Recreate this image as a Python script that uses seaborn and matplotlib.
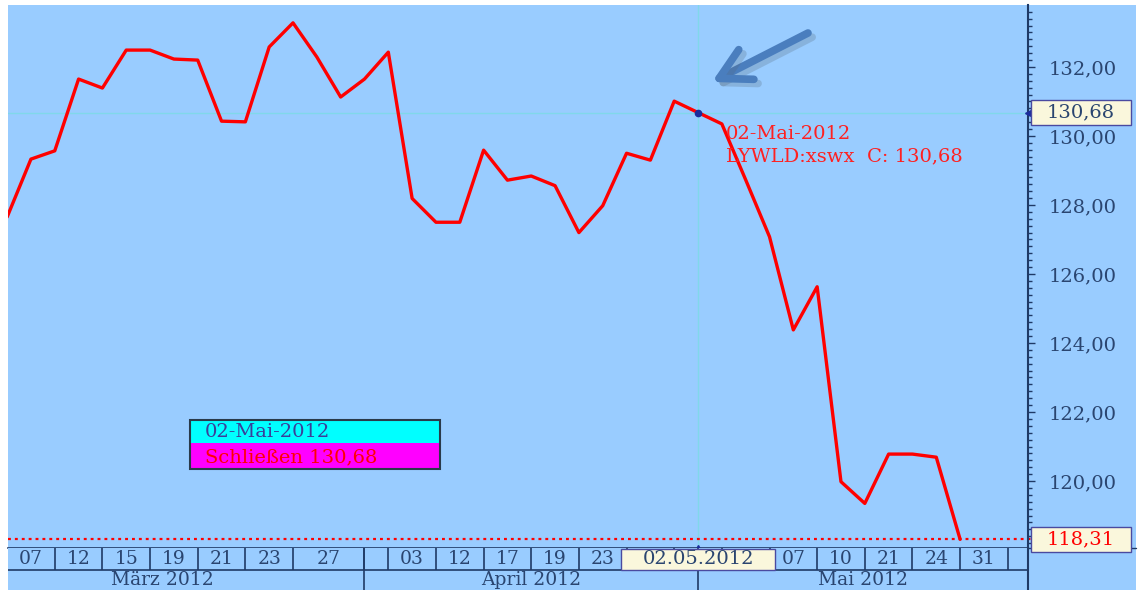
import numpy as np
import pandas as pd
import matplotlib
matplotlib.use("Agg")
import matplotlib.pyplot as plt
import seaborn as sns
from matplotlib.ticker import MultipleLocator, FuncFormatter
from matplotlib.patches import Rectangle
from matplotlib.lines import Line2D
import matplotlib.patheffects as pe

# ---------------- data ----------------
close = [127.65, 129.33, 129.57, 131.65, 131.39, 132.49, 132.49, 132.23, 132.20, 130.43,
         130.41, 132.58, 133.28, 132.29, 131.13, 131.65, 132.43, 128.19, 127.50, 127.50,
         129.59, 128.72, 128.84, 128.56, 127.20, 127.98, 129.50, 129.30, 131.01, 130.68,
         130.35, 128.73, 127.08, 124.38, 125.63, 119.98, 119.35, 120.78, 120.78, 120.69,
         118.31]
day_bounds = [0, 2, 4, 6, 8, 10, 12, 15, 16, 18, 20, 22, 24, 26, 28, 30, 32, 34, 36, 38, 40, 42]
day_labels = ["07", "12", "15", "19", "21", "23", "27", "", "03", "12", "17", "19", "23",
              "", "", "", "07", "10", "21", "24", "31"]
month_names = ["März 2012", "April 2012", "Mai 2012"]
month_start = [-2, 15, 29]
sel_idx = 29
sel_date_short = "02.05.2012"
sel_date_long = "02-Mai-2012"
symbol = "LYWLD:xswx"
close_label = "Schließen"

df = pd.DataFrame({"idx": np.arange(len(close)), "close": close})

def fmt(v):
    return f"{v:.2f}".replace(".", ",")

# ---------------- style ----------------
sns.set_style("white")
plt.rcParams["font.family"] = ["DejaVu Serif"]

W, H = 1139, 590
BG = "#99CCFF"
NAVY = "#1F3A66"
TXT = "#2A4570"
CREAM = "#FAF7DC"

fig = plt.figure(figsize=(W / 100, H / 100), dpi=100, facecolor="white")

def fx(x):
    return x / W

def fy(y):
    return 1 - y / H

fig.patches.append(Rectangle((fx(8.3), 0), fx(1136) - fx(8.3), fy(5), transform=fig.transFigure,
                             fc=BG, ec="none", zorder=-10))

L, R, T, B = 8.3, 1028, 5, 548
ax = fig.add_axes([fx(L), fy(B), fx(R) - fx(L), fy(T) - fy(B)])
band = fig.add_axes([fx(L), 0, fx(R) - fx(L), fy(B)])

xlim = (0.05, 42.85)
ylim = (118.058, 133.797)
px_per_idx = (R - L) / (xlim[1] - xlim[0])

ax.set_facecolor(BG)
sns.lineplot(data=df, x="idx", y="close", ax=ax, color="#FF0000", linewidth=2.4, zorder=3)
ax.set_xlim(*xlim)
ax.set_ylim(*ylim)
ax.set_xlabel("")
ax.set_ylabel("")

# crosshair
ax.axvline(sel_idx, color="#80D8EA", lw=1, zorder=1)
ax.axhline(close[sel_idx], color="#80D8EA", lw=1, zorder=1)
# last close dotted line
ax.axhline(close[-1], xmax=1.005, color="#FF0000", ls=(0, (1.3, 1.8)), lw=1.6, zorder=2, clip_on=False)
# selected point
ax.plot(sel_idx, close[sel_idx], "o", color="#1C2C9C", ms=4.5, zorder=4)
ax.plot(sel_idx, ylim[0], "^", color="#1C2C9C", ms=5, zorder=5, clip_on=False)

# y axis on right
for s in ["left", "top"]:
    ax.spines[s].set_visible(False)
ax.spines["right"].set_color(NAVY)
ax.spines["right"].set_linewidth(1.5)
ax.spines["bottom"].set_color(NAVY)
ax.spines["bottom"].set_linewidth(1.2)
ax.yaxis.tick_right()
ax.yaxis.set_major_locator(MultipleLocator(2))
ax.yaxis.set_minor_locator(MultipleLocator(0.2))
ax.yaxis.set_major_formatter(FuncFormatter(lambda v, p: fmt(v)))
ax.tick_params(axis="y", which="major", length=5, width=1, color=NAVY, labelsize=14,
               labelcolor=TXT, pad=10, direction="out")
ax.tick_params(axis="y", which="minor", length=3, width=1, color=NAVY, direction="out")
ax.tick_params(axis="x", which="both", bottom=False, labelbottom=False)

# annotation text near selected point
ax.annotate(sel_date_long, xy=(sel_idx, close[sel_idx]), xytext=(28, -21), textcoords="offset pixels",
            color="#FF2020", fontsize=14, va="center", ha="left", zorder=6)
ax.annotate(f"{symbol}  C: {fmt(close[sel_idx])}", xy=(sel_idx, close[sel_idx]), xytext=(28, -44),
            textcoords="offset pixels", color="#FF2020", fontsize=14, va="center", ha="left", zorder=6)

# ---------------- band (date axis) ----------------
band.set_facecolor(BG)
band.set_xlim(*xlim)
band.set_ylim(0, 1)
split = 20 / 42
for s in ["left", "top", "bottom"]:
    band.spines[s].set_visible(False)
band.spines["right"].set_color(NAVY)
band.spines["right"].set_linewidth(1.5)
band.set_xticks([])
band.set_yticks([])
band.axhline(split, color=NAVY, lw=1.2)
band.vlines(day_bounds, split, 1, color=NAVY, lw=1.2)
for a, b, lab in zip(day_bounds[:-1], day_bounds[1:], day_labels):
    if lab:
        band.text((a + b) / 2, (split + 1) / 2, lab, ha="center", va="center", fontsize=13.5, color=TXT)
band.vlines(month_start[1:], 0, 1, color=NAVY, lw=1.2)
month_end = month_start[1:] + [xlim[1]]
for a, b, lab in zip(month_start, month_end, month_names):
    band.text((a + b) / 2, split / 2, lab, ha="center", va="center", fontsize=13.5, color=TXT)

# selected date box in band
box_w = 154 / px_per_idx
band.add_patch(Rectangle((sel_idx - box_w / 2, split), box_w, 1 - split - 0.02,
                         fc=CREAM, ec="#4A4AA0", lw=1, zorder=5))
band.text(sel_idx, (split + 1) / 2, sel_date_short, ha="center", va="center", fontsize=14, color=TXT,
          zorder=6)

# right value boxes
for val, col in [(close[sel_idx], TXT), (close[-1], "#FF0000")]:
    yd = ax.transData.transform((0, val))[1]
    y_px = H - yd
    fig.add_artist(Rectangle((fx(1031), fy(y_px + 12.5)), 100 / W, 25 / H, transform=fig.transFigure,
                             fc=CREAM, ec="#4A4AA0", lw=1, zorder=20))
    fig.text(fx(1081), fy(y_px), fmt(val), ha="center", va="center", fontsize=14, color=col, zorder=21)
ax.plot(xlim[1], close[sel_idx], "<", color="#1C2C9C", ms=5, zorder=7, clip_on=False)

# line at right bottom
fig.add_artist(Line2D([fx(1028), fx(1136)], [fy(548), fy(548)], transform=fig.transFigure, color=NAVY, lw=1))

# legend-like info box
fig.add_artist(Rectangle((fx(190), fy(443)), 250 / W, 23 / H, transform=fig.transFigure,
                         fc="#00FFFF", ec="none", zorder=10))
fig.add_artist(Rectangle((fx(190), fy(469)), 250 / W, 26 / H, transform=fig.transFigure,
                         fc="#FF00FF", ec="none", zorder=10))
fig.add_artist(Rectangle((fx(190), fy(469)), 250 / W, 49 / H, transform=fig.transFigure,
                         fc="none", ec="#2A3A4A", lw=1.5, zorder=11))
fig.text(fx(205), fy(432), sel_date_long, ha="left", va="center", fontsize=14, color="#3A3F9A", zorder=12)
fig.text(fx(205), fy(457), f"{close_label} {fmt(close[sel_idx])}", ha="left", va="center", fontsize=14,
         color="#FF0000", zorder=12)

# arrow
ax.annotate("", xy=(712, H - 82), xycoords="figure pixels", xytext=(808, H - 33), textcoords="figure pixels",
            arrowprops=dict(arrowstyle="->, head_length=1.1, head_width=0.6", lw=5.5, color="#4A7EBE",
                            shrinkA=0, shrinkB=0, mutation_scale=20, capstyle="round", joinstyle="round",
                            path_effects=[pe.SimpleLineShadow(offset=(3, -3), shadow_color="#556677", alpha=0.25),
                                          pe.Normal()]),
            annotation_clip=False, zorder=8)

fig.savefig("out.png", dpi=100, facecolor="white")
